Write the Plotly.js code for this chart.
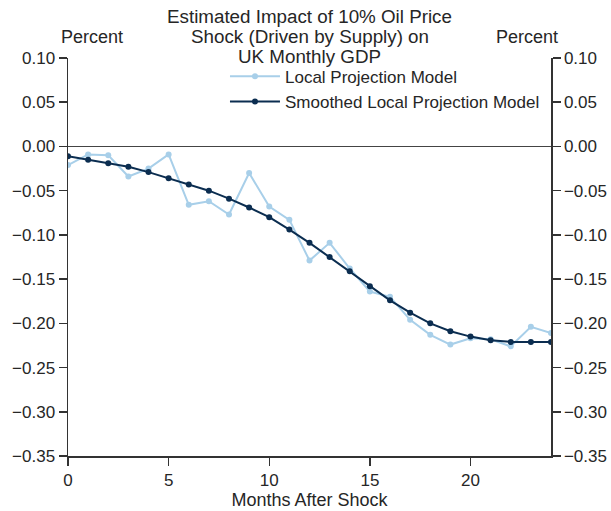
<!DOCTYPE html>
<html>
<head>
<meta charset="utf-8">
<script src="https://cdn.plot.ly/plotly-3.0.1.min.js"></script>
<style>html,body{margin:0;padding:0;background:#fff;}#chart{width:611px;height:511px;}</style>
</head>
<body>
<div id="chart"></div>
<script>
var months = [0,1,2,3,4,5,6,7,8,9,10,11,12,13,14,15,16,17,18,19,20,21,22,23,24];
var localProjection = [-0.021,-0.009,-0.010,-0.034,-0.025,-0.009,-0.066,-0.062,-0.077,-0.030,-0.068,-0.083,-0.129,-0.109,-0.138,-0.164,-0.170,-0.196,-0.213,-0.224,-0.217,-0.218,-0.226,-0.204,-0.211];
var smoothedProjection = [-0.011,-0.015,-0.019,-0.023,-0.029,-0.036,-0.043,-0.050,-0.059,-0.069,-0.080,-0.094,-0.109,-0.125,-0.141,-0.158,-0.174,-0.188,-0.200,-0.209,-0.215,-0.219,-0.221,-0.221,-0.221];
var yTicks = [0.10,0.05,0.00,-0.05,-0.10,-0.15,-0.20,-0.25,-0.30,-0.35];
var yTickLabels = ['0.10','0.05','0.00','\u22120.05','\u22120.10','\u22120.15','\u22120.20','\u22120.25','\u22120.30','\u22120.35'];
var xTicks = [0,5,10,15,20];
var titleLines = ['Estimated Impact of 10% Oil Price', 'Shock (Driven by Supply) on', 'UK Monthly GDP'];

var FONT = 'Liberation Sans, Arial, sans-serif';
var TXT = '#262626';
var AX = '#333333';

var traces = [
  {x: months, y: localProjection, type: 'scatter', mode: 'lines+markers', name: 'Local Projection Model',
   line: {color: '#a8cfe9', width: 2}, marker: {color: '#a8cfe9', size: 6}},
  {x: months, y: smoothedProjection, type: 'scatter', mode: 'lines+markers', name: 'Smoothed Local Projection Model',
   line: {color: '#0b2d50', width: 2}, marker: {color: '#0b2d50', size: 6}},
  {x: months, y: smoothedProjection, yaxis: 'y2', type: 'scatter', mode: 'lines', showlegend: false,
   hoverinfo: 'skip', line: {color: 'rgba(0,0,0,0)', width: 0}}
];

var yCommon = {
  range: [-0.35, 0.10], tickvals: yTicks, ticktext: yTickLabels, showgrid: false,
  ticks: 'outside', ticklen: 8, tickwidth: 1.5, tickcolor: AX, showline: true, linecolor: AX, linewidth: 1.5,
  tickfont: {family: FONT, size: 17, color: TXT}, fixedrange: true
};

var titleY = [1.1044, 1.0541, 1.0050];
var annotations = titleLines.map(function (t, i) {
  return {text: t, xref: 'paper', yref: 'paper', x: 0.5, y: titleY[i], xanchor: 'center', yanchor: 'middle',
          showarrow: false, font: {family: FONT, size: 18.8, color: TXT}};
});
annotations.push(
  {text: 'Percent', xref: 'paper', yref: 'paper', x: 0.049, y: 1.054, xanchor: 'center', yanchor: 'middle',
   showarrow: false, font: {family: FONT, size: 18, color: TXT}},
  {text: 'Percent', xref: 'paper', yref: 'paper', x: 0.951, y: 1.054, xanchor: 'center', yanchor: 'middle',
   showarrow: false, font: {family: FONT, size: 18, color: TXT}}
);

var layout = {
  width: 611, height: 511,
  margin: {l: 68, r: 60, t: 58, b: 55},
  paper_bgcolor: '#ffffff', plot_bgcolor: '#ffffff',
  font: {family: FONT, color: TXT},
  showlegend: true,
  legend: {x: 0.325, y: 0.998, xanchor: 'left', yanchor: 'top', bgcolor: 'rgba(0,0,0,0)',
           font: {family: FONT, size: 17, color: TXT}, itemwidth: 50, tracegroupgap: 0},
  xaxis: {range: [0, 24], tickvals: xTicks, showgrid: false, zeroline: false,
          ticks: 'outside', ticklen: 8, tickwidth: 1.5, tickcolor: AX, showline: true, linecolor: AX, linewidth: 1.5,
          tickfont: {family: FONT, size: 17, color: TXT},
          title: {text: 'Months After Shock', font: {family: FONT, size: 18, color: TXT}, standoff: 3}, fixedrange: true},
  yaxis: Object.assign({}, yCommon, {side: 'left', zeroline: true, zerolinecolor: '#444444', zerolinewidth: 1.2}),
  yaxis2: Object.assign({}, yCommon, {side: 'right', overlaying: 'y', anchor: 'x', zeroline: false}),
  annotations: annotations
};

Plotly.newPlot('chart', traces, layout, {displayModeBar: false, staticPlot: true});
</script>
</body>
</html>
